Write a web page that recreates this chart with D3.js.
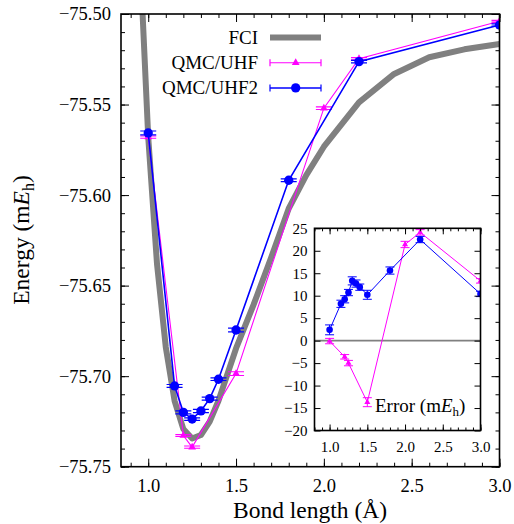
<!DOCTYPE html>
<html>
<head>
<meta charset="utf-8">
<script src="https://cdn.jsdelivr.net/npm/d3@7"></script>
<style>
  body { margin: 0; background: #fff; }
</style>
</head>
<body>
<svg width="514" height="524"></svg>
<script>
// FCI reference curve (Eh)
const fciX = [0.95, 1.0, 1.05, 1.1, 1.15, 1.2, 1.25, 1.3, 1.35, 1.4, 1.5, 1.6, 1.7, 1.8, 1.9, 2.0, 2.2, 2.4, 2.6, 2.8, 3.0];
const fciE = [-75.462, -75.568, -75.638, -75.684, -75.7136, -75.7292, -75.7344, -75.7325, -75.7251, -75.7136,
              -75.6847, -75.6605, -75.6345, -75.6074, -75.589, -75.5733, -75.5488, -75.5331, -75.5239, -75.5195, -75.5166];

// QMC/UHF (magenta)
const uhfX = [1.0, 1.2, 1.25, 1.5, 2.0, 2.2, 3.0];
const uhfE = [-75.568, -75.7328, -75.7392, -75.6986, -75.5520, -75.5247, -75.5040];
const uhfErr = [-0.1, -3.6, -5.0, -13.7, 21.4, 24.1, 13.3];   // mEh vs FCI
const uhfSig = [0.6, 0.5, 0.6, 1.0, 0.7, 0.6, 0.5];          // mEh

// QMC/UHF2 (blue)
const uhf2X = [1.0, 1.15, 1.2, 1.25, 1.3, 1.35, 1.4, 1.5, 1.8, 2.2, 3.0];
const uhf2E = [-75.5657, -75.7054, -75.7200, -75.7237, -75.7192, -75.7124, -75.7017, -75.6745, -75.5918, -75.5263, -75.5061];
const uhf2Err = [2.4, 8.2, 9.2, 10.7, 13.3, 12.7, 11.9, 10.2, 15.6, 22.5, 10.4];
const uhf2Sig = [1.1, 0.8, 0.8, 0.7, 0.9, 0.8, 0.7, 1.0, 0.8, 0.7, 0.6];

// ticks
const mainXTicks = [1.0, 1.5, 2.0, 2.5, 3.0];
const mainYTicks = [-75.75, -75.70, -75.65, -75.60, -75.55, -75.50];
const insetXTicks = [1.0, 1.5, 2.0, 2.5, 3.0];
const insetYTicks = [-20, -15, -10, -5, 0, 5, 10, 15, 20, 25];

const FONT = '"Liberation Serif", "Times New Roman", Times, serif';
const svg = d3.select('svg').style('font-family', FONT);
const MAGENTA = '#ff00ff', BLUE = '#0000ff', GRAY = '#808080';

function seq(a, b, step) {
  const out = [];
  for (let v = a; v <= b + 1e-9; v += step) out.push(+v.toFixed(4));
  return out;
}

function drawAxes(g, xs, ys, o) {
  const [x0, x1] = xs.range();
  const [y0, y1] = ys.range();
  const bottom = d3.axisBottom(xs).tickValues(o.xMajor).tickSize(-o.major)
    .tickPadding(o.xPad).tickFormat(d3.format('.1f'));
  g.append('g').attr('transform', `translate(0,${y0})`).call(bottom);
  g.append('g').attr('transform', `translate(0,${y0})`)
    .call(d3.axisBottom(xs).tickValues(o.xMinor).tickSize(-o.minor).tickFormat(''));
  g.append('g').attr('transform', `translate(0,${y1})`)
    .call(d3.axisTop(xs).tickValues(o.xMajor).tickSize(-o.major).tickFormat(''));
  g.append('g').attr('transform', `translate(0,${y1})`)
    .call(d3.axisTop(xs).tickValues(o.xMinor).tickSize(-o.minor).tickFormat(''));

  const left = d3.axisLeft(ys).tickValues(o.yMajor).tickSize(-o.major)
    .tickPadding(o.yPad).tickFormat(o.yFmt);
  g.append('g').attr('transform', `translate(${x0},0)`).call(left);
  g.append('g').attr('transform', `translate(${x1},0)`)
    .call(d3.axisRight(ys).tickValues(o.yMajor).tickSize(-o.major).tickFormat(''));
  if (o.yMinor) {
    g.append('g').attr('transform', `translate(${x0},0)`)
      .call(d3.axisLeft(ys).tickValues(o.yMinor).tickSize(-o.minor).tickFormat(''));
    g.append('g').attr('transform', `translate(${x1},0)`)
      .call(d3.axisRight(ys).tickValues(o.yMinor).tickSize(-o.minor).tickFormat(''));
  }
  g.selectAll('.domain').remove();
  g.selectAll('.tick line').attr('stroke', '#000').attr('stroke-width', 1);
  g.selectAll('.tick text')
    .style('font-family', FONT).style('font-size', o.font + 'px').attr('fill', '#000');
  g.append('rect')
    .attr('x', x0).attr('y', y1).attr('width', x1 - x0).attr('height', y0 - y1)
    .attr('fill', 'none').attr('stroke', '#000').attr('stroke-width', 1.6);
}

function drawSeries(g, xs, ys, xv, yv, sig, o) {
  const pts = xv.map((d, i) => ({ x: xs(d), y: ys(yv[i]), lo: ys(yv[i] - sig[i]), hi: ys(yv[i] + sig[i]) }));
  g.append('path')
    .attr('d', d3.line().x(d => d.x).y(d => d.y)(pts))
    .attr('fill', 'none').attr('stroke', o.color).attr('stroke-width', o.lw);
  const eb = g.append('g').attr('stroke', o.color).attr('stroke-width', o.ebw);
  pts.forEach(p => {
    eb.append('line').attr('x1', p.x).attr('x2', p.x).attr('y1', p.lo).attr('y2', p.hi);
    eb.append('line').attr('x1', p.x - o.cap).attr('x2', p.x + o.cap).attr('y1', p.lo).attr('y2', p.lo);
    eb.append('line').attr('x1', p.x - o.cap).attr('x2', p.x + o.cap).attr('y1', p.hi).attr('y2', p.hi);
  });
  const sym = d3.symbol(o.symbol, o.size);
  g.append('g').selectAll('path').data(pts).join('path')
    .attr('d', sym).attr('transform', d => `translate(${d.x},${d.y})`)
    .attr('fill', o.color);
}

function label(x, y, size, parts, extra) {
  const t = svg.append('text').attr('x', x).attr('y', y)
    .style('font-family', FONT).style('font-size', size + 'px');
  if (extra) extra(t);
  parts(t);
  return t;
}

// ---------- main plot ----------
const x = d3.scaleLinear().domain([0.845, 3.0]).range([121, 499.5]);
const y = d3.scaleLinear().domain([-75.75, -75.50]).range([466.7, 14]);

svg.append('clipPath').attr('id', 'clipMain')
  .append('rect').attr('x', 121).attr('y', 14).attr('width', 378.5).attr('height', 452.7);

const plot = svg.append('g').attr('clip-path', 'url(#clipMain)');
plot.append('path')
  .attr('d', d3.line().x(d => x(d)).y((d, i) => y(fciE[i]))(fciX))
  .attr('fill', 'none').attr('stroke', GRAY).attr('stroke-width', 6).attr('stroke-linejoin', 'round');

drawSeries(plot, x, y, uhfX, uhfE, uhfSig.map(s => s / 1000),
  { color: MAGENTA, lw: 1.1, ebw: 1.1, cap: 8, symbol: d3.symbolTriangle, size: 26 });
drawSeries(plot, x, y, uhf2X, uhf2E, uhf2Sig.map(s => s / 1000),
  { color: BLUE, lw: 1.6, ebw: 1.2, cap: 8, symbol: d3.symbolCircle, size: 68 });

drawAxes(svg.append('g'), x, y, {
  xMajor: mainXTicks, xMinor: seq(0.9, 3.0, 0.1), yMajor: mainYTicks, yMinor: seq(-75.75, -75.50, 0.01),
  major: 8, minor: 4, font: 18.5, xPad: 12, yPad: 10, yFmt: d3.format('.2f')
});

// axis titles
label(310, 518, 23.5, t => t.text('Bond length  (Å)'), t => t.attr('text-anchor', 'middle'));

label(0, 0, 23.5, t => {
  t.append('tspan').text('Energy  (m');
  t.append('tspan').attr('font-style', 'italic').text('E');
  t.append('tspan').attr('dy', 5).style('font-size', '16px').text('h');
  t.append('tspan').attr('dy', -5).text(')');
}, t => t.attr('transform', 'translate(29,240) rotate(-90)').attr('text-anchor', 'middle'));

// legend
const legend = [
  { label: 'FCI', color: GRAY, type: 'fci' },
  { label: 'QMC/UHF', color: MAGENTA, type: 'tri' },
  { label: 'QMC/UHF2', color: BLUE, type: 'circ' }
];
const lg = svg.append('g');
legend.forEach((d, i) => {
  const by = 44 + i * 25.2, cy = by - 6.5;
  label(258, by, 19, t => t.text(d.label), t => t.attr('text-anchor', 'end'));
  if (d.type === 'fci') {
    lg.append('line').attr('x1', 270).attr('x2', 321).attr('y1', cy).attr('y2', cy)
      .attr('stroke', GRAY).attr('stroke-width', 6);
  } else {
    const w = d.type === 'tri' ? 1.1 : 1.5;
    lg.append('line').attr('x1', 270).attr('x2', 321).attr('y1', cy).attr('y2', cy)
      .attr('stroke', d.color).attr('stroke-width', w);
    [270, 321].forEach(xx => lg.append('line').attr('x1', xx).attr('x2', xx)
      .attr('y1', cy - 3.5).attr('y2', cy + 3.5).attr('stroke', d.color).attr('stroke-width', 1.2));
    lg.append('path')
      .attr('d', d3.symbol(d.type === 'tri' ? d3.symbolTriangle : d3.symbolCircle, d.type === 'tri' ? 26 : 68))
      .attr('transform', `translate(295.7,${cy})`).attr('fill', d.color);
  }
});

// ---------- inset ----------
const ix = d3.scaleLinear().domain([0.8, 3.0]).range([314.5, 480.5]);
const iy = d3.scaleLinear().domain([-20, 25]).range([430.5, 228.3]);

svg.append('rect').attr('x', 314.5).attr('y', 228.3).attr('width', 166).attr('height', 202.2).attr('fill', '#fff');
svg.append('clipPath').attr('id', 'clipInset')
  .append('rect').attr('x', 314.5).attr('y', 228.3).attr('width', 166).attr('height', 202.2);
const inset = svg.append('g').attr('clip-path', 'url(#clipInset)');

inset.append('line').attr('x1', ix(0.8)).attr('x2', ix(3.0)).attr('y1', iy(0)).attr('y2', iy(0))
  .attr('stroke', GRAY).attr('stroke-width', 1.6);

drawSeries(inset, ix, iy, uhfX, uhfErr, uhfSig,
  { color: MAGENTA, lw: 1, ebw: 1, cap: 4.5, symbol: d3.symbolTriangle, size: 16 });
drawSeries(inset, ix, iy, uhf2X, uhf2Err, uhf2Sig,
  { color: BLUE, lw: 1, ebw: 1, cap: 4.5, symbol: d3.symbolCircle, size: 34 });

drawAxes(svg.append('g'), ix, iy, {
  xMajor: insetXTicks, xMinor: seq(0.8, 3.0, 0.1), yMajor: insetYTicks, yMinor: null,
  major: 6, minor: 3, font: 15, xPad: 11, yPad: 7, yFmt: d3.format('d')
});

label(375, 411.5, 19, t => {
  t.append('tspan').text('Error (m');
  t.append('tspan').attr('font-style', 'italic').text('E');
  t.append('tspan').attr('dy', 4).style('font-size', '13px').text('h');
  t.append('tspan').attr('dy', -4).text(')');
});
</script>
</body>
</html>
